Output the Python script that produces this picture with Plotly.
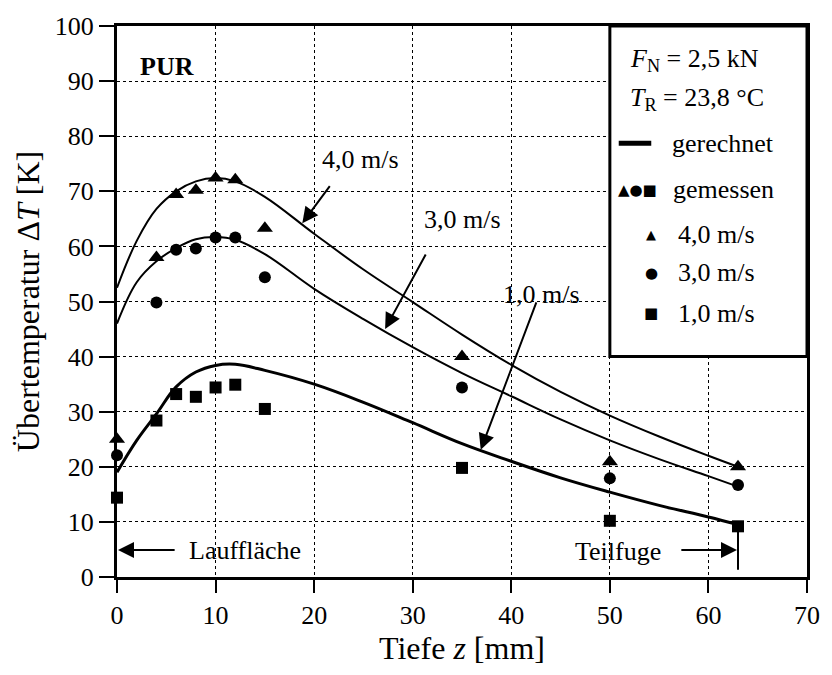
import plotly.graph_objects as go

# ---- data ----
z_meas = [0, 4, 6, 8, 10, 12, 15, 35, 50, 63]
meas_40 = [25.0, 58.0, 69.4, 70.2, 72.4, 72.1, 63.3, 40.0, 20.9, 20.0]
meas_30 = [22.1, 49.8, 59.4, 59.6, 61.6, 61.6, 54.4, 34.4, 17.9, 16.7]
meas_10 = [14.4, 28.4, 33.2, 32.7, 34.4, 34.9, 30.5, 19.8, 10.2, 9.2]

z_calc = [0, 2, 4, 6, 8, 10, 12, 15, 20, 25, 30, 35, 40, 45, 50, 55, 60, 63]
calc_40 = [52.5, 61.0, 66.8, 70.0, 71.8, 72.4, 71.8, 69.0, 62.3, 55.8, 49.9, 44.0, 38.5, 33.6, 29.3, 25.5, 22.0, 20.0]
calc_30 = [46.0, 53.5, 57.3, 59.7, 61.3, 61.7, 61.2, 58.6, 52.3, 46.8, 41.7, 37.0, 32.8, 28.6, 24.8, 21.4, 18.3, 16.4]
calc_10 = [19.0, 24.8, 29.6, 34.5, 37.2, 38.4, 38.6, 37.5, 35.0, 31.7, 28.0, 24.2, 21.0, 18.0, 15.4, 13.0, 10.9, 9.5]

x_ticks = [0, 10, 20, 30, 40, 50, 60, 70]
y_ticks = [0, 10, 20, 30, 40, 50, 60, 70, 80, 90, 100]

FONT = "Liberation Serif, Times New Roman, serif"
SYM = "DejaVu Sans"
fig = go.Figure()

for ys, w in [(calc_40, 2), (calc_30, 2), (calc_10, 3)]:
    fig.add_trace(go.Scatter(x=z_calc, y=ys, mode="lines",
                             line=dict(color="black", width=w, shape="spline", smoothing=1.1),
                             showlegend=False, hoverinfo="skip"))

for ys, sym, sz in [(meas_40, "triangle-up", 14), (meas_30, "circle", 12), (meas_10, "square", 12)]:
    fig.add_trace(go.Scatter(x=z_meas, y=ys, mode="markers",
                             marker=dict(symbol=sym, size=sz, color="black"),
                             showlegend=False, cliponaxis=False))

# legend box
fig.add_shape(type="rect", xref="x", yref="y", x0=50, x1=70, y0=40, y1=100,
              line=dict(color="black", width=3), fillcolor="white", layer="between")
# thick line sample
fig.add_shape(type="line", xref="x", yref="y", x0=50.9, x1=54.2, y0=78.7, y1=78.7,
              line=dict(color="black", width=5))
# Teilfuge vertical marker
fig.add_shape(type="line", xref="x", yref="y", x0=63, x1=63, y0=1.3, y1=9.2,
              line=dict(color="black", width=2))

ann = []
def txt(x, y, t, size=26, xanchor="left", family=FONT):
    ann.append(dict(x=x, y=y, xref="x", yref="y", text=t, showarrow=False,
                    xanchor=xanchor, yanchor="middle",
                    font=dict(family=family, size=size, color="black")))

txt(2.1, 92.6, "<b>PUR</b>", 26)
txt(51.8, 93.9, "<i>F</i><sub>N</sub> = 2,5 kN", 26)
txt(51.8, 86.8, "<i>T</i><sub>R</sub> = 23,8 °C", 26)
txt(56.1, 78.7, "gerechnet", 26)
txt(50.6, 70.3, "▲●■", 15, family=SYM)
txt(56.2, 70.3, "gemessen", 26)
txt(54.2, 62.2, "▲", 13, xanchor="center", family=SYM)
txt(54.2, 55.2, "●", 15, xanchor="center", family=SYM)
txt(54.2, 47.9, "■", 15, xanchor="center", family=SYM)
txt(56.7, 62.2, "4,0 m/s", 26)
txt(56.7, 55.2, "3,0 m/s", 26)
txt(56.7, 47.9, "1,0 m/s", 26)

txt(7.1, 4.9, "Lauffläche", 26)
txt(50.8, 4.6, "Teilfuge", 26, xanchor="center")

# curve labels
txt(20.6, 75.8, "4,0 m/s", 26)
txt(30.9, 64.8, "3,0 m/s", 26)
txt(39.0, 51.2, "1,0 m/s", 26)

def arrow(x0, y0, x1, y1):
    ann.append(dict(x=x1, y=y1, ax=x0, ay=y0, xref="x", yref="y", axref="x", ayref="y",
                    text="", showarrow=True, arrowhead=2, arrowsize=1.6, arrowwidth=2,
                    arrowcolor="black", standoff=0, startstandoff=0))

arrow(21.7, 71.2, 18.8, 64.2)
arrow(31.4, 58.8, 27.2, 45.0)
arrow(42.6, 50.1, 36.9, 23.1)
arrow(6.0, 4.9, 0.1, 4.9)
arrow(57.1, 4.9, 62.9, 4.9)

fig.update_layout(
    width=832, height=675,
    margin=dict(l=117, r=17, t=24, b=98),
    paper_bgcolor="white", plot_bgcolor="white",
    font=dict(family=FONT, size=24, color="black"),
    annotations=ann,
    xaxis=dict(range=[0, 70], tickvals=x_ticks, ticktext=[str(v) for v in x_ticks],
               showgrid=True, gridcolor="black", griddash="dot", gridwidth=1,
               showline=True, linecolor="black", linewidth=3, mirror=True,
               ticks="outside", ticklen=13, tickwidth=2, tickcolor="black",
               zeroline=False, tickfont=dict(family=FONT, size=26),
               title=dict(text="Tiefe <i>z</i> [mm]", font=dict(family=FONT, size=32), standoff=6)),
    yaxis=dict(range=[0, 100], tickvals=y_ticks, ticktext=[str(v) for v in y_ticks],
               showgrid=True, gridcolor="black", griddash="dot", gridwidth=1,
               showline=True, linecolor="black", linewidth=3, mirror=True,
               ticks="outside", ticklen=15, tickwidth=2, tickcolor="black",
               zeroline=False, tickfont=dict(family=FONT, size=26),
               title=dict(text="Übertemperatur Δ<i>T</i> [K]", font=dict(family=FONT, size=32), standoff=6)),
)

fig.write_html("out.html")
